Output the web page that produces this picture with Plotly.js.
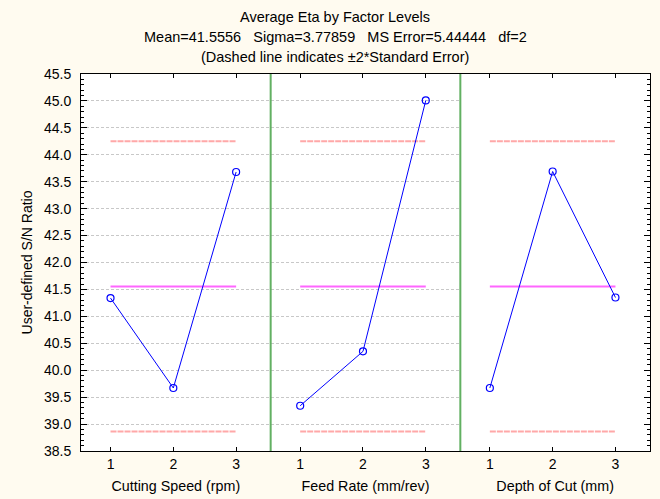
<!DOCTYPE html>
<html>
<head>
<meta charset="utf-8">
<script src="https://cdn.plot.ly/plotly-3.0.1.min.js"></script>
<style>html,body{margin:0;padding:0;background:#FFFBF0;}</style>
</head>
<body>
<div id="chart" style="width:660px;height:499px;"></div>
<script>
// ---- data ----
const factorNames = ["Cutting Speed (rpm)", "Feed Rate (mm/rev)", "Depth of Cut (mm)"];
const levels = [1, 2, 3];
const cuttingSpeed = [41.34, 39.67, 43.68];
const feedRate = [39.34, 40.35, 45.01];
const depthOfCut = [39.67, 43.69, 41.35];
const grandMean = 41.5556;
const sigma = 3.77859;
const msError = 5.44444;
const dfError = 2;
const nPerLevel = 3;
const titleLines = [
  "Average Eta by Factor Levels",
  "Mean=41.5556\u00A0\u00A0\u00A0Sigma=3.77859\u00A0\u00A0\u00A0MS Error=5.44444\u00A0\u00A0\u00A0df=2",
  "(Dashed line indicates \u00B12*Standard Error)"
];
const yTitle = "User-defined S/N Ratio";

// ---- build ----
const se2 = 2 * Math.sqrt(msError / nPerLevel);
const series = [cuttingSpeed, feedRate, depthOfCut];
const FONT = "Liberation Sans, Arial, sans-serif";
const traces = [];
const lineEnds = [levels[0], levels[levels.length - 1]];
series.forEach((vals, i) => {
  const xa = i === 0 ? "x" : "x" + (i + 1);
  const ya = i === 2 ? "y2" : "y";
  traces.push({x: lineEnds, y: [grandMean + se2, grandMean + se2], xaxis: xa, yaxis: ya, mode: "lines",
    line: {color: "#FFA8A8", width: 2, dash: "6px,1px"}, hoverinfo: "skip", showlegend: false});
  traces.push({x: lineEnds, y: [grandMean - se2, grandMean - se2], xaxis: xa, yaxis: ya, mode: "lines",
    line: {color: "#FFA8A8", width: 2, dash: "6px,1px"}, hoverinfo: "skip", showlegend: false});
  traces.push({x: lineEnds, y: [grandMean, grandMean], xaxis: xa, yaxis: ya, mode: "lines",
    line: {color: "#FF66FF", width: 2}, hoverinfo: "skip", showlegend: false});
  traces.push({x: levels, y: vals, xaxis: xa, yaxis: ya, mode: "lines+markers", name: factorNames[i],
    line: {color: "#0000FF", width: 1},
    marker: {symbol: "circle-open", size: 7, color: "#0000FF", line: {width: 1.2, color: "#0000FF"}},
    showlegend: false});
});

const xRange = [0.53, 3.55];
function xAxis(i) {
  return {
    domain: [i / 3, (i + 1) / 3], range: xRange, anchor: "y",
    tickvals: levels, ticktext: levels.map(String),
    ticks: "inside", ticklen: 4, tickcolor: "#000", showline: true, linecolor: "#000", linewidth: 1,
    mirror: "ticks", showgrid: false, zeroline: false, fixedrange: true,
    tickfont: {family: FONT, size: 14, color: "#000"},
    title: {text: factorNames[i], font: {family: FONT, size: 14.3, color: "#000"}, standoff: 10}
  };
}

const yCommon = {
  range: [38.5, 45.5], dtick: 0.5, tick0: 38.5, tickformat: ".1f",
  ticks: "inside", ticklen: 6, tickcolor: "#000",
  minor: {dtick: 0.1, ticks: "inside", ticklen: 3, tickcolor: "#000", showgrid: false},
  showline: true, linecolor: "#000", linewidth: 1, zeroline: false, fixedrange: true
};

const annotations = titleLines.map((t, k) => ({
  text: t, xref: "paper", yref: "paper", x: 0.4465, y: 1.152 - k * 0.0532,
  xanchor: "center", yanchor: "middle", showarrow: false,
  font: {family: FONT, size: 14.5, color: "#000"}
}));

const layout = {
  width: 660, height: 499,
  margin: {l: 81, r: 10, t: 74, b: 48},
  paper_bgcolor: "#FFFBF0", plot_bgcolor: "#FFFFFF",
  showlegend: false,
  xaxis: xAxis(0), xaxis2: xAxis(1), xaxis3: xAxis(2),
  yaxis: Object.assign({}, yCommon, {
    anchor: "x", side: "left",
    showgrid: true, gridcolor: "#C8C8C8", griddash: "3px,2px", gridwidth: 1,
    tickfont: {family: FONT, size: 14, color: "#000"}, ticklabelstandoff: 6,
    title: {text: yTitle, font: {family: FONT, size: 14, color: "#000"}, standoff: 8}
  }),
  yaxis2: Object.assign({}, yCommon, {
    anchor: "x3", side: "right", overlaying: "y", matches: "y",
    showgrid: false, showticklabels: false
  }),
  shapes: [1, 2].map(k => ({
    type: "line", xref: "paper", yref: "paper", x0: k / 3, x1: k / 3, y0: 0, y1: 1,
    line: {color: "#62B062", width: 2}, layer: "above"
  })),
  annotations: annotations
};

Plotly.newPlot("chart", traces, layout, {displayModeBar: false, staticPlot: true});
</script>
</body>
</html>
